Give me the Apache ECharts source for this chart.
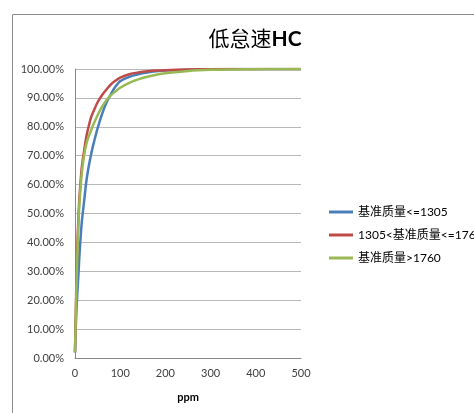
<!DOCTYPE html>
<html><head><meta charset="utf-8">
<script src="https://cdn.jsdelivr.net/npm/echarts@6/dist/echarts.min.js"></script>
<style>html,body{margin:0;padding:0;background:#fff}#c{width:474px;height:413px}</style>
</head><body><div id="c"></div>
<script>
const ppm = [0,2,5,8,10,15,20,25,30,35,40,50,60,70,80,90,100,120,140,160,180,200,250,300,350,400,450,500];
const seriesNames = ['基准质量<=1305','1305<基准质量<=1760','基准质量>1760'];
const blue  = [2,12,22,30,36,47,54,61,66,70,73.5,79.5,84.5,88.5,91.5,94,95.8,97.3,98.2,98.8,99.2,99.45,99.75,99.9,99.97,100,100,100];
const red   = [2,18,38,50,56,66,71.5,76.5,80,83,85,88.5,91,93,94.8,96,97,98.2,98.8,99.2,99.45,99.6,99.85,99.95,100,100,100,100];
const green = [2,16,35,48,54,64,70,74,76.5,78.5,80.5,84,87,89.3,91,92.3,93.5,95.2,96.4,97.3,98,98.5,99.3,99.7,99.85,99.95,100,100];
const yTicks = [0,10,20,30,40,50,60,70,80,90,100];
const xTicks = [0,100,200,300,400,500];
const colors = ['#4A7EBB','#BE4B48','#98B954'];
const FF = "Lato, 'Noto Sans CJK SC', sans-serif";
const chart = echarts.init(document.getElementById('c'));
const mk = arr => ppm.map((x,i)=>[x,arr[i]]);
chart.setOption({
  animation:false,
  textStyle:{fontFamily:FF},
  graphic:[{type:'rect',shape:{x:12.5,y:14.5,width:520,height:460},style:{fill:'none',stroke:'#8c8c8c',lineWidth:1},z:-1}],
  title:{
    text:'{a|低怠速}{b|HC}',left:250,top:24,textAlign:'center',
    textStyle:{fontWeight:'normal',rich:{a:{fontSize:21,fontWeight:'normal',color:'#000',fontFamily:FF},b:{fontSize:21,fontWeight:'bold',color:'#000',fontFamily:FF}}}
  },
  legend:{
    orient:'vertical',left:329,top:206,padding:0,itemWidth:24,itemHeight:3,itemGap:11,icon:'rect',
    textStyle:{fontSize:12,color:'#000',fontFamily:FF},
    data:seriesNames
  },
  grid:{left:75,right:173,top:69,bottom:55,containLabel:false},
  xAxis:{
    type:'value',min:0,max:500,interval:100,
    name:'ppm',nameLocation:'middle',nameGap:34,
    nameTextStyle:{fontWeight:'bold',fontSize:11,color:'#000',fontFamily:FF},
    axisLine:{show:true,lineStyle:{color:'#888'}},axisTick:{show:false},
    axisLabel:{fontSize:11,color:'#404040',margin:10},
    splitLine:{show:false}
  },
  yAxis:{
    type:'value',min:0,max:100,interval:10,
    axisLine:{show:true,lineStyle:{color:'#888'}},axisTick:{show:false},
    axisLabel:{fontSize:11,color:'#404040',margin:11,formatter:v=>v.toFixed(2)+'%'},
    splitLine:{lineStyle:{color:'#b8b8b8'}}
  },
  series:[blue,red,green].map((d,i)=>({
    name:seriesNames[i],type:'line',data:mk(d),smooth:0.3,showSymbol:false,
    lineStyle:{width:2.5,color:colors[i]},itemStyle:{color:colors[i]}
  }))
});
</script></body></html>
